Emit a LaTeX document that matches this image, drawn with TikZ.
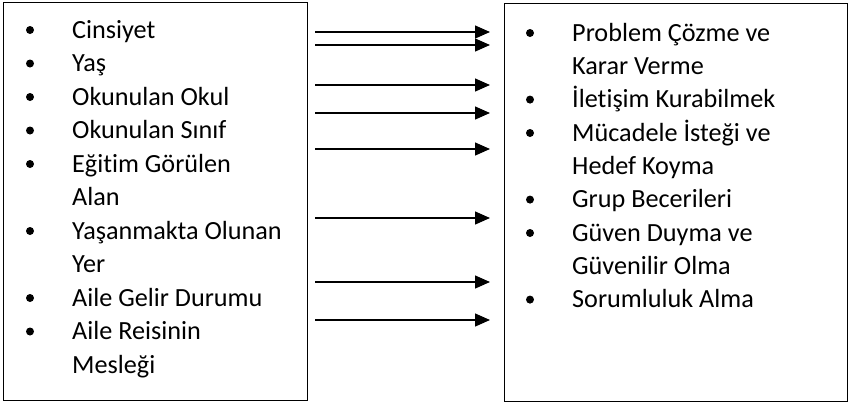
\documentclass[tikz,border=0pt]{standalone}
\usepackage{fontspec}
\setmainfont{Carlito}[Ligatures=NoCommon]
\usetikzlibrary{arrows.meta}

\tikzset{
  box/.style={rectangle, draw, line width=1pt, inner sep=0pt},
  item/.style={anchor=base west, inner sep=0pt, font=\fontsize{26.2}{33.5}\selectfont},
  dot/.style={circle, fill=black, inner sep=0pt, minimum size=8pt},
  link/.style={line width=1.3pt, -{Triangle[length=15pt,width=13pt]}}
}

\begin{document}
\begin{tikzpicture}[x=1pt, y=-1pt]
	\useasboundingbox (0,0) rectangle (860,405);
	% Place boxes
	\node [box, minimum width=303.5pt, minimum height=398pt] (lbox) at (155.25,201.5) {};
	\node [box, minimum width=343pt, minimum height=398pt] (rbox) at (676,202) {};
	% Left list
	\foreach \n/\y/\t in {1/38/Cinsiyet, 2/71.5/Yaş, 3/105/Okunulan Okul,
	  4/138.5/Okunulan Sınıf, 5/172/Eğitim Görülen, 6/205.5/Alan,
	  7/239/Yaşanmakta Olunan, 8/272.5/Yer, 9/306/Aile Gelir Durumu,
	  10/339.5/Aile Reisinin, 11/373/Mesleği}
	  \node [item] (l\n) at (72,\y) {\t};
	\foreach \n/\y in {1/38, 2/71.5, 3/105, 4/138.5, 5/172, 7/239, 9/306, 10/339.5}
	  \node [dot] (lb\n) at (30,\y-8) {};
	% Right list
	\foreach \n/\y/\t in {1/41/Problem Çözme ve, 2/74.3/Karar Verme,
	  3/107.6/İletişim Kurabilmek, 4/141/Mücadele İsteği ve, 5/174.3/Hedef Koyma,
	  6/207.6/Grup Becerileri, 7/241/Güven Duyma ve, 8/274.3/Güvenilir Olma,
	  9/307.6/Sorumluluk Alma}
	  \node [item] (r\n) at (572,\y) {\t};
	\foreach \n/\y in {1/41, 3/107.6, 4/141, 6/207.6, 7/241, 9/307.6}
	  \node [dot] (rb\n) at (530,\y-8) {};
	% Arrows
	\foreach \i/\y in {1/32, 2/45, 3/85, 4/113, 5/149, 6/218, 7/282, 8/320} {
	  \coordinate (s\i) at (315,\y);
	  \coordinate (e\i) at (490,\y);
	  \draw [link] (s\i) -- (e\i);
	}
\end{tikzpicture}
\end{document}
